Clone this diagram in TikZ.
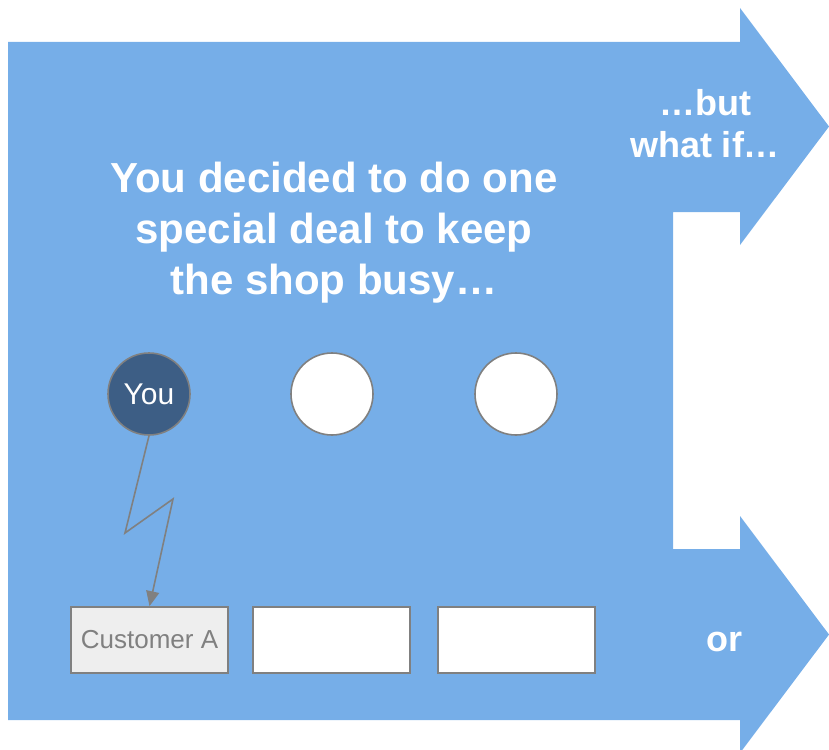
\documentclass[tikz,border=0pt]{standalone}
\usepackage{fontspec}
\setmainfont{Liberation Sans}
\usetikzlibrary{arrows.meta}

\definecolor{slideblue}{RGB}{118,174,232}
\definecolor{youblue}{RGB}{61,94,133}
\definecolor{edgegray}{RGB}{128,128,128}
\definecolor{boxgray}{RGB}{238,238,238}

\begin{document}
\begin{tikzpicture}[x=1pt, y=-1pt, >=Latex,
    headline/.style={text=white, font=\bfseries\fontsize{42}{51}\selectfont, align=center},
    sidetext/.style={text=white, font=\bfseries\fontsize{36}{42}\selectfont, align=center},
    person/.style={circle, draw=edgegray, line width=1.6pt, fill=white, minimum size=82pt, inner sep=0pt},
    slot/.style={rectangle, draw=edgegray, line width=1.6pt, fill=white, minimum width=157pt, minimum height=66pt, inner sep=0pt}]
    \useasboundingbox (0,0) rectangle (829,749);
    \begin{scope}
        \clip (0,0) rectangle (829,749);
        % blue background with the two arrows
        \fill[slideblue] (8,42) -- (740,42) -- (740,8) -- (829,126.5) -- (740,245) -- (740,212)
            -- (673,212) -- (673,549) -- (740,549) -- (740,516) -- (829,634.5) -- (740,753)
            -- (740,720) -- (8,720) -- cycle;
    \end{scope}
    \node[headline] (title) at (334,233) {You decided to do one\\special deal to keep\\the shop busy…};
    \node[sidetext] (butwhat) at (705,124) {…but\\what if…};
    \node[sidetext] (ortext) at (724,642) {or};
    \node[person, fill=youblue, text=white, font=\fontsize{30}{34}\selectfont] (you) at (149,394) {You};
    \node[person] (p2) at (332,394) {};
    \node[person] (p3) at (516,394) {};
    \node[slot, fill=boxgray, text=edgegray, font=\fontsize{26}{30}\selectfont] (custA) at (149.5,640) {Customer A};
    \node[slot] (c2) at (331.5,640) {};
    \node[slot] (c3) at (516.5,640) {};
    \coordinate (zigA) at (125,533);
    \coordinate (zigB) at (173,499);
    \draw[edgegray, line width=1.6pt, -{Triangle[length=15pt, width=13pt]}]
        (you.south) -- (zigA) -- (zigB) -- (custA.north);
\end{tikzpicture}
\end{document}
